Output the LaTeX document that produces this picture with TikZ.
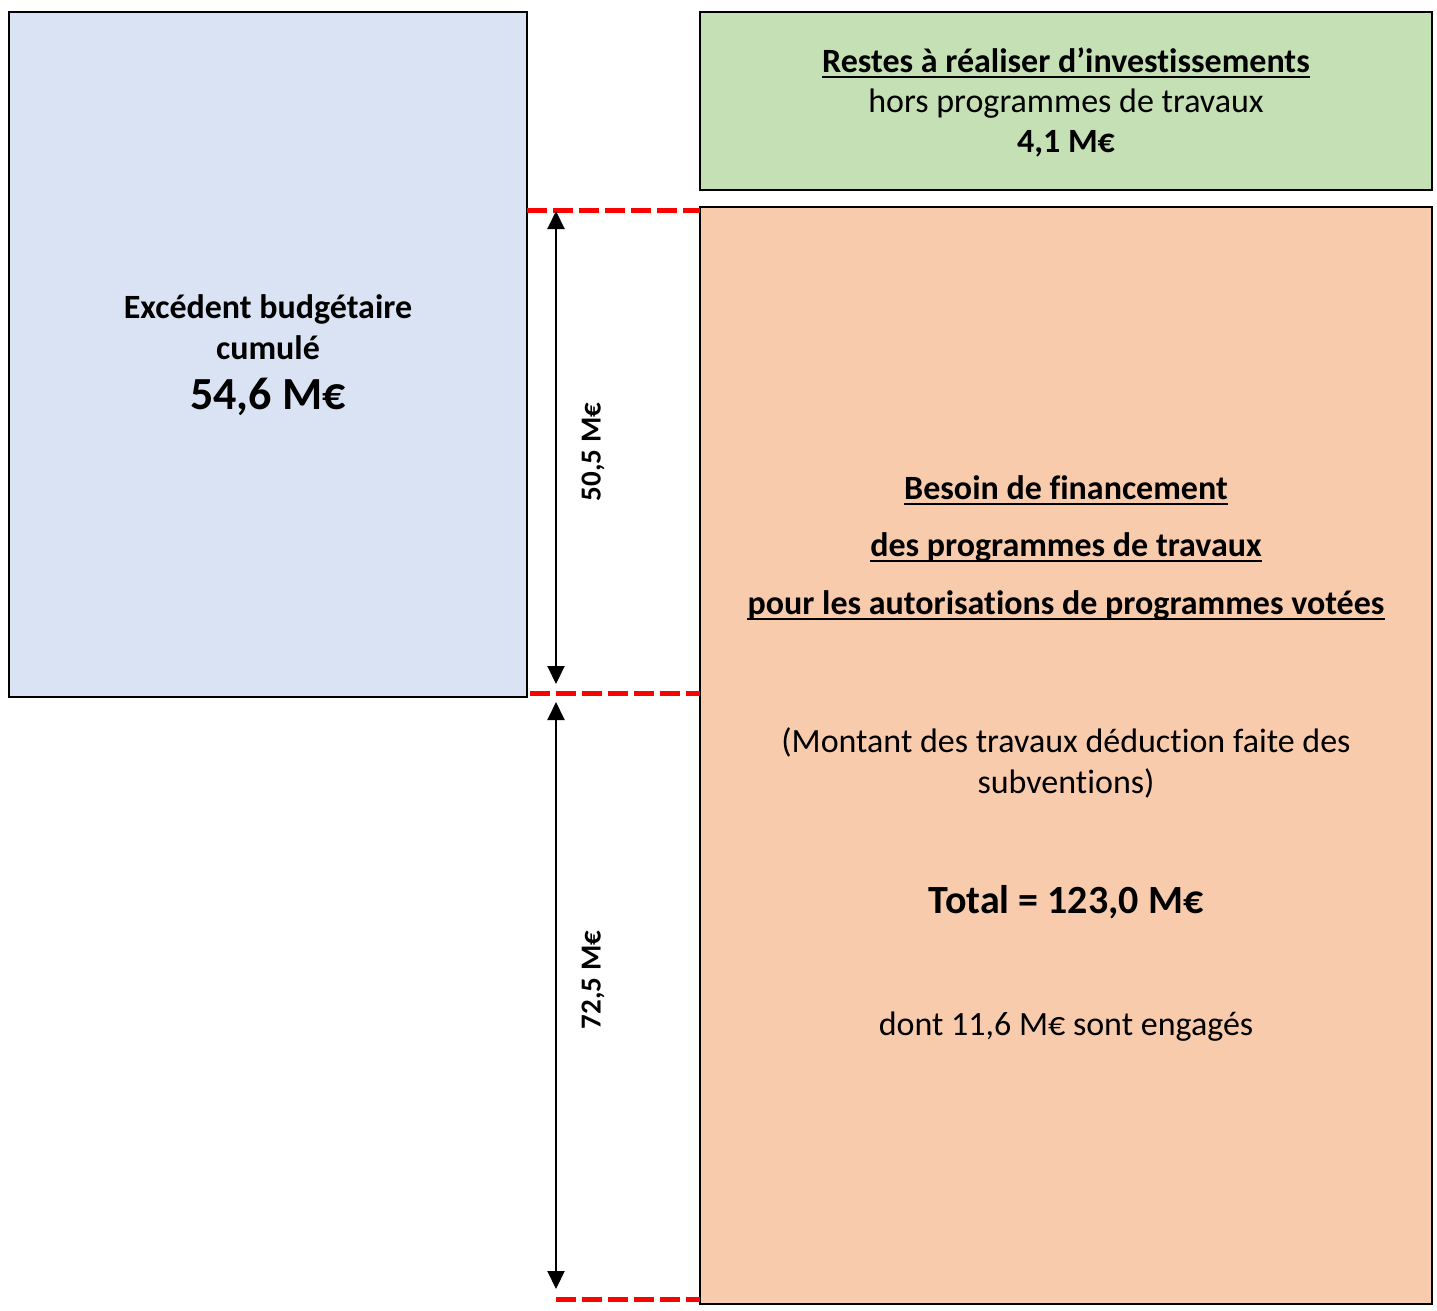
\documentclass[tikz,border=0pt]{standalone}
\usepackage{fontspec}
\setmainfont{Carlito}[Ligatures={NoCommon}]
\usetikzlibrary{arrows.meta}
\definecolor{blueF}{HTML}{DAE3F3}
\definecolor{greenF}{HTML}{C5E0B4}
\definecolor{orangeF}{HTML}{F8CBAD}
\definecolor{cutred}{HTML}{FF0000}
\begin{document}
\begin{tikzpicture}[x=1pt,y=-1pt,
  box/.style={draw=black, line width=2pt, rectangle, inner sep=0pt},
  txt/.style={anchor=base, inner sep=0pt, font=\fontsize{34}{40}\selectfont},
  btxt/.style={anchor=base, inner sep=0pt, font=\fontsize{34}{40}\selectfont\bfseries},
  uline/.style={line width=2.4pt},
  dimline/.style={line width=2pt, {Triangle[width=17pt,length=18pt]}-{Triangle[width=17pt,length=18pt]}},
  cutline/.style={cutred, line width=5pt, dash pattern=on 20pt off 6pt}]
\useasboundingbox (0,0) rectangle (1437,1310);
% boxes
\node[box, fill=blueF, minimum width=518pt, minimum height=685pt] (exc) at (268,354.5) {};
\node[box, fill=greenF, minimum width=732pt, minimum height=178pt] (rar) at (1066,101) {};
\node[box, fill=orangeF, minimum width=732pt, minimum height=1097pt] (bes) at (1066,755.5) {};
% left box text
\node[btxt] (e1) at (268,318) {Excédent budgétaire};
\node[btxt] (e2) at (268,359) {cumulé};
\node[btxt, font=\fontsize{46}{52}\selectfont\bfseries] (e3) at (268,409) {54,6 M€};
% green box text
\node[btxt] (r1) at (1066,72) {Restes à réaliser d’investissements};
\node[txt] (r2) at (1066,112) {hors programmes de travaux};
\node[btxt] (r3) at (1066,152) {4,1 M€};
% orange box text
\node[btxt] (b1) at (1066,499) {Besoin de financement};
\node[btxt] (b2) at (1066,556) {des programmes de travaux};
\node[btxt] (b3) at (1066,614) {pour les autorisations de programmes votées};
\node[txt] (b4) at (1066,752) {(Montant des travaux déduction faite des};
\node[txt] (b5) at (1066,793) {subventions)};
\node[btxt, font=\fontsize{40}{46}\selectfont\bfseries] (b6) at (1066,913) {Total = 123,0 M€};
\node[txt] (b7) at (1066,1035) {dont 11,6 M€ sont engagés};
% underlines
\foreach \n in {r1,b1,b2,b3}
  \draw[uline] ([yshift=-5pt]\n.base west) -- ([yshift=-5pt]\n.base east);
% dashed cut lines
\coordinate (c1a) at (527,210); \coordinate (c1b) at (700,210);
\coordinate (c2a) at (530,693); \coordinate (c2b) at (700,693);
\coordinate (c3a) at (556,1299); \coordinate (c3b) at (700,1299);
\draw[cutline] (c1a) -- (c1b);
\draw[cutline] (c2a) -- (c2b);
\draw[cutline] (c3a) -- (c3b);
% dimension arrows
\coordinate (d1t) at (556,211); \coordinate (d1b) at (556,684);
\coordinate (d2t) at (556,702); \coordinate (d2b) at (556,1289);
\draw[dimline] (d1t) -- (d1b);
\draw[dimline] (d2t) -- (d2b);
\node[btxt, anchor=center, rotate=90, font=\fontsize{29}{33}\selectfont\bfseries] (l1) at (593,452) {50,5 M€};
\node[btxt, anchor=center, rotate=90, font=\fontsize{29}{33}\selectfont\bfseries] (l2) at (593,980) {72,5 M€};
\end{tikzpicture}
\end{document}
